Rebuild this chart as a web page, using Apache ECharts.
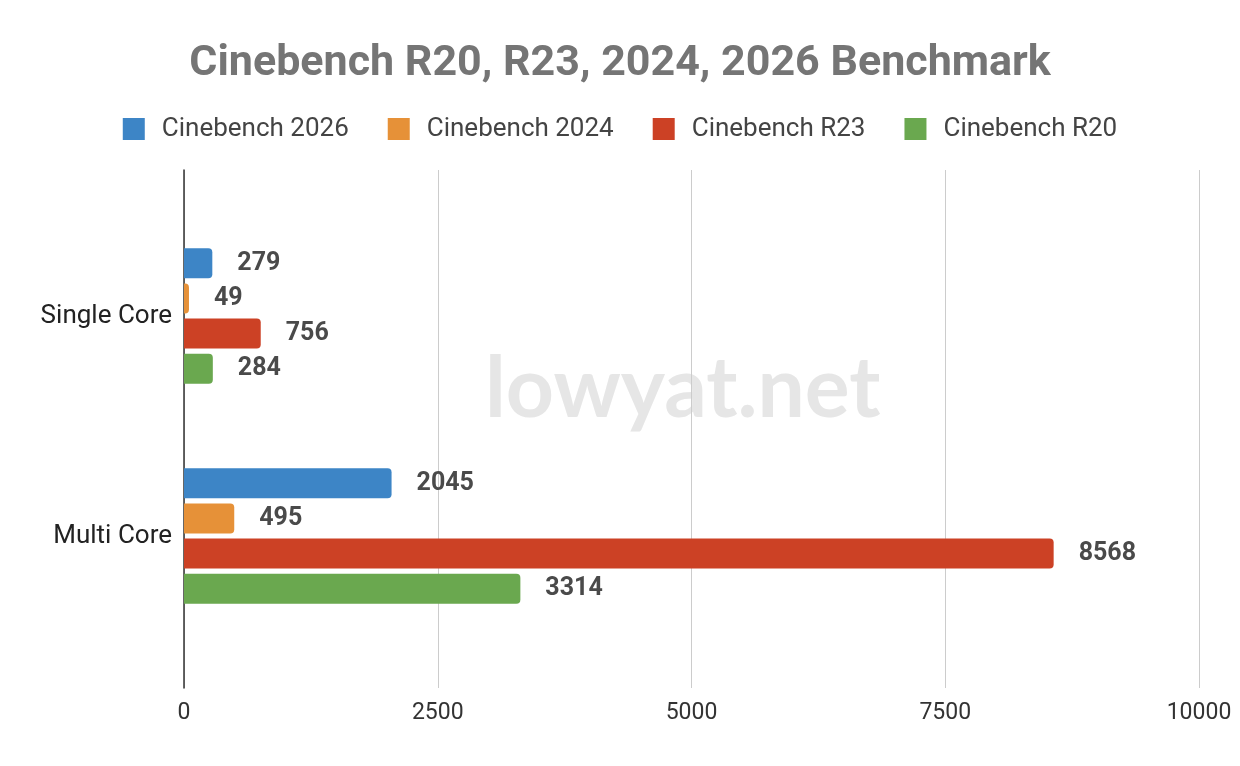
<!DOCTYPE html>
<html>
<head>
<meta charset="utf-8">
<script src="https://cdn.jsdelivr.net/npm/echarts@6/dist/echarts.min.js"></script>
<style>
  html, body { margin: 0; padding: 0; background: #fff; }
  #chart { width: 1240px; height: 766px; }
</style>
</head>
<body>
<div id="chart"></div>
<script>
// data
var categories = ['Single Core', 'Multi Core'];
var seriesNames = ['Cinebench 2026', 'Cinebench 2024', 'Cinebench R23', 'Cinebench R20'];
var cb2026 = [279, 2045];
var cb2024 = [49, 495];
var cbR23 = [756, 8568];
var cbR20 = [284, 3314];
var xTicks = [0, 2500, 5000, 7500, 10000];

var colors = ['#3d85c6', '#e69138', '#cc4125', '#6aa84f'];
var font = 'Roboto, "Liberation Sans", Arial, sans-serif';

var chart = echarts.init(document.getElementById('chart'));

function barSeries(name, data) {
    return {
        name: name,
        type: 'bar',
        xAxisIndex: 1,
        yAxisIndex: 1,
        data: data,
        barWidth: 30,
        barGap: '17%',
        itemStyle: { borderRadius: [0, 4, 4, 0] },
        label: {
            show: true,
            position: 'right',
            distance: 25,
            fontFamily: font,
            fontWeight: 'bold',
            fontSize: 25,
            color: '#4a4a4a'
        }
    };
}

chart.setOption({
    color: colors,
    backgroundColor: '#fff',
    title: {
        text: 'Cinebench R20, R23, 2024, 2026 Benchmark',
        left: 'center',
        top: 38,
        textStyle: { fontFamily: font, fontWeight: 'bold', fontSize: 43, color: '#757575' }
    },
    legend: {
        top: 111,
        left: 'center',
        icon: 'rect',
        itemWidth: 22,
        itemHeight: 22,
        itemGap: 39,
        data: seriesNames,
        textStyle: { fontFamily: font, fontSize: 26, color: '#444', padding: [0, 0, 0, 12] }
    },
    graphic: [{
        type: 'text',
        left: 485,
        top: 348,
        z: -10,
        style: {
            text: 'lowyat.net',
            fontFamily: 'Lato, "Open Sans", sans-serif',
            fontWeight: 'bold',
            fontSize: 84,
            fill: '#e6e6e6'
        }
    }],
    grid: [
        { left: 184, right: 41, top: 170, bottom: 78 },
        { left: 184, right: 41, top: 206, bottom: 120 }
    ],
    xAxis: [{
        gridIndex: 0,
        type: 'value',
        min: xTicks[0],
        max: xTicks[xTicks.length - 1],
        interval: 2500,
        axisLine: { show: false },
        axisTick: { show: false },
        axisLabel: {
            fontFamily: font, fontSize: 23, color: '#333', margin: 14,
            formatter: function (v) { return String(v); }
        },
        splitLine: { lineStyle: { color: '#cccccc', width: 1 } }
    }, {
        gridIndex: 1,
        type: 'value',
        min: xTicks[0],
        max: xTicks[xTicks.length - 1],
        show: false
    }],
    yAxis: [{
        gridIndex: 0,
        type: 'value',
        min: 0,
        max: 1,
        axisLine: { show: true, lineStyle: { color: '#333', width: 1.5 } },
        axisTick: { show: false },
        axisLabel: { show: false },
        splitLine: { show: false }
    }, {
        gridIndex: 1,
        type: 'category',
        inverse: true,
        data: categories,
        axisLine: { show: false },
        axisTick: { show: false },
        axisLabel: { fontFamily: font, fontSize: 26, color: '#222', margin: 12 }
    }],
    series: [
        barSeries(seriesNames[0], cb2026),
        barSeries(seriesNames[1], cb2024),
        barSeries(seriesNames[2], cbR23),
        barSeries(seriesNames[3], cbR20)
    ]
});
</script>
</body>
</html>
